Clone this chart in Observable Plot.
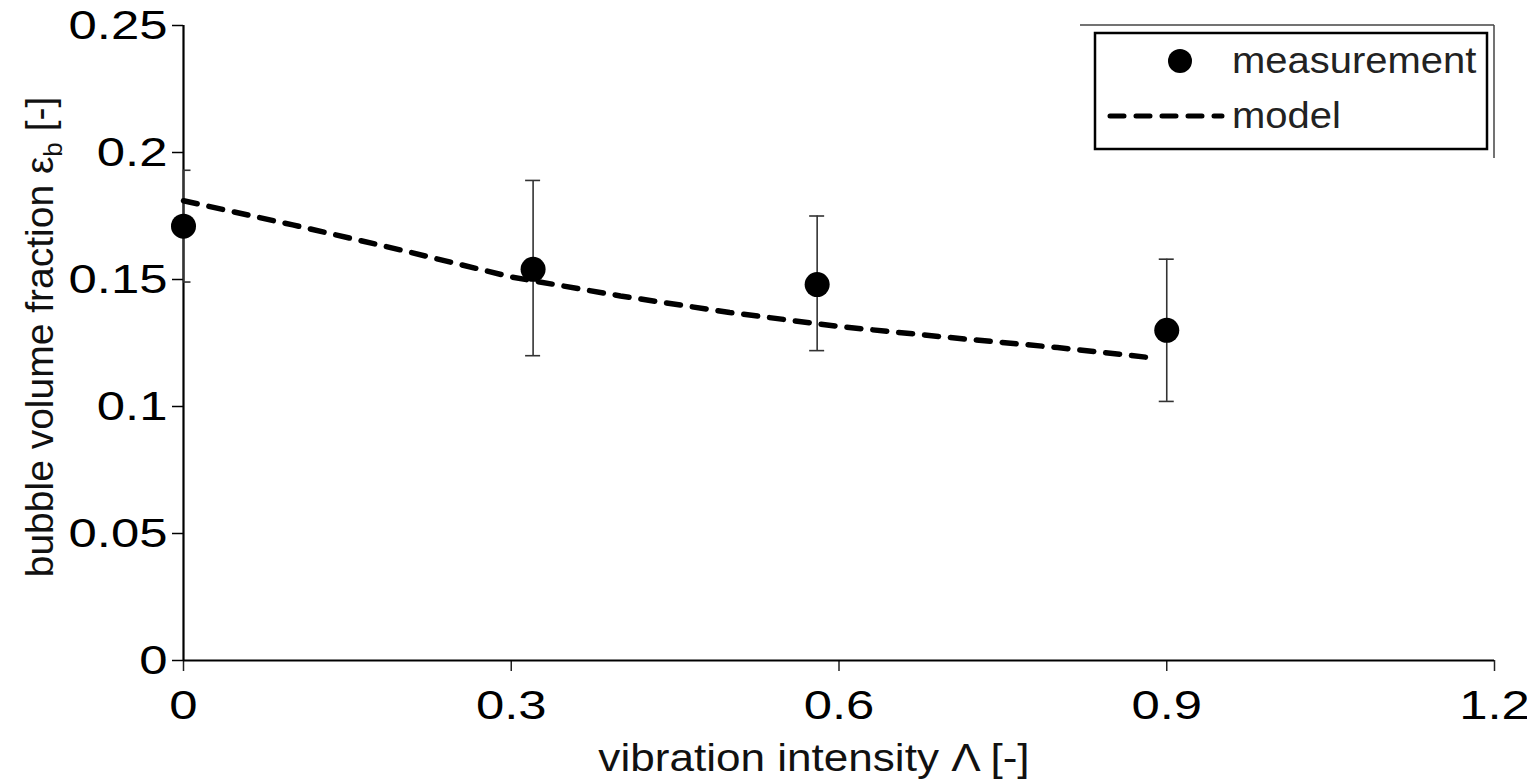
<!DOCTYPE html>
<html>
<head>
<meta charset="utf-8">
<script src="https://cdn.jsdelivr.net/npm/d3@7"></script>
<script src="https://cdn.jsdelivr.net/npm/@observablehq/plot@0.6"></script>
<style>
  html, body { margin: 0; padding: 0; background: #fff; }
  #chart { position: relative; width: 1527px; height: 780px; }
</style>
</head>
<body>
<div id="chart"></div>
<script>
// ---- data ----
const measX   = [0, 0.32, 0.58, 0.90];
const measY   = [0.171, 0.154, 0.148, 0.130];
const measLo  = [0.149, 0.120, 0.122, 0.102];
const measHi  = [0.193, 0.189, 0.175, 0.158];

const modelX = [0, 0.1, 0.2, 0.3, 0.4, 0.5, 0.6, 0.7, 0.8, 0.89];
const modelY = [0.181, 0.1715, 0.1615, 0.151, 0.1435, 0.137, 0.1315, 0.1272, 0.1232, 0.119];

const xTicks = [0, 0.3, 0.6, 0.9, 1.2];
const xTickLabels = ["0", "0.3", "0.6", "0.9", "1.2"];
const yTicks = [0, 0.05, 0.1, 0.15, 0.2, 0.25];
const yTickLabels = ["0", "0.05", "0.1", "0.15", "0.2", "0.25"];

const legendLabels = ["measurement", "model"];
const xTitle = "vibration intensity Λ [-]";
const yTitleMain = "bubble volume fraction ε";
const yTitleSub = "b";
const yTitleEnd = " [-]";

// ---- build ----
const meas = measX.map((x, i) => ({x, y: measY[i], lo: measLo[i], hi: measHi[i]}));
const model = modelX.map((x, i) => ({x, y: modelY[i]}));

const W = 1527, H = 780;
const mL = 183, mR = 33, mT = 25, mB = 120;
const xDomain = [0, 1.2];
const capHalf = 7.5 * (xDomain[1] - xDomain[0]) / (W - mL - mR);

const font = "'Liberation Sans', Arial, sans-serif";

const plot = Plot.plot({
  width: W, height: H,
  marginLeft: mL, marginRight: mR, marginTop: mT, marginBottom: mB,
  x: {domain: xDomain},
  y: {domain: [0, 0.25]},
  style: {fontFamily: font, fontSize: "41px", color: "#000", background: "#fff"},
  marks: [
    Plot.axisX({ticks: xTicks, tickFormat: d => xTickLabels[xTicks.indexOf(d)], tickSize: 11, tickPadding: 18, label: null, stroke: "#222", strokeWidth: 1.5, fontSize: 41}),
    Plot.axisY({ticks: yTicks, tickFormat: d => yTickLabels[yTicks.indexOf(d)], tickSize: 11, tickPadding: 5, label: null, stroke: "#000", strokeWidth: 1.5, fontSize: 41}),
    Plot.ruleX([0], {stroke: "#000", strokeWidth: 2.2}),
    Plot.ruleY([0], {stroke: "#000", strokeWidth: 2.2}),
    Plot.ruleX(meas, {x: "x", y1: "lo", y2: "hi", stroke: "#333", strokeWidth: 1.6}),
    Plot.ruleY(meas, {y: "hi", x1: d => Math.max(0, d.x - capHalf), x2: d => d.x + capHalf, stroke: "#333", strokeWidth: 1.6}),
    Plot.ruleY(meas, {y: "lo", x1: d => Math.max(0, d.x - capHalf), x2: d => d.x + capHalf, stroke: "#333", strokeWidth: 1.6}),
    Plot.line(model, {x: "x", y: "y", stroke: "#000", strokeWidth: 5.5, strokeDasharray: "14,12", strokeLinecap: "round"}),
    Plot.dot(meas, {x: "x", y: "y", r: 12.5, fill: "#000", stroke: "none"})
  ]
});

document.getElementById("chart").appendChild(plot);

const svg = d3.select(plot);

function stretch(node, f) {
  const L = node.getComputedTextLength();
  node.setAttribute("textLength", L * f);
  node.setAttribute("lengthAdjust", "spacingAndGlyphs");
}

svg.selectAll('g[aria-label="x-axis tick label"] text, g[aria-label="y-axis tick label"] text')
  .each(function() { stretch(this, 1.24); });

// x title
const xt = svg.append("text")
  .attr("x", 814).attr("y", 771)
  .attr("text-anchor", "middle")
  .attr("font-family", font).attr("font-size", 38).attr("fill", "#111")
  .text(xTitle);
stretch(xt.node(), 1.16);

// y title with subscript
const yt = svg.append("text")
  .attr("transform", "translate(53,337) rotate(-90)")
  .attr("text-anchor", "middle")
  .attr("font-family", font).attr("font-size", 39).attr("fill", "#111");
yt.append("tspan").text(yTitleMain);
yt.append("tspan").attr("font-size", 26).attr("dy", 9).text(yTitleSub);
yt.append("tspan").attr("dy", -9).text(yTitleEnd);

// legend
const lg = svg.append("g");
lg.append("line").attr("x1", 1080).attr("x2", 1494).attr("y1", 25).attr("y2", 25).attr("stroke", "#444").attr("stroke-width", 1.5);
lg.append("line").attr("x1", 1494).attr("x2", 1494).attr("y1", 25).attr("y2", 158).attr("stroke", "#444").attr("stroke-width", 1.5);
lg.append("rect").attr("x", 1095).attr("y", 33).attr("width", 392).attr("height", 116)
  .attr("fill", "#fff").attr("stroke", "#000").attr("stroke-width", 2.5);
lg.append("circle").attr("cx", 1180).attr("cy", 61).attr("r", 12).attr("fill", "#000");
lg.append("line").attr("x1", 1110).attr("x2", 1222).attr("y1", 116).attr("y2", 116)
  .attr("stroke", "#000").attr("stroke-width", 5).attr("stroke-dasharray", "14,12").attr("stroke-linecap", "round");
legendLabels.forEach((lab, i) => {
  const t = lg.append("text").attr("x", 1232).attr("y", i === 0 ? 73 : 128)
    .attr("text-anchor", "start")
    .attr("font-family", font).attr("font-size", 37).attr("fill", "#222").text(lab);
  stretch(t.node(), 1.08);
});
</script>
</body>
</html>
